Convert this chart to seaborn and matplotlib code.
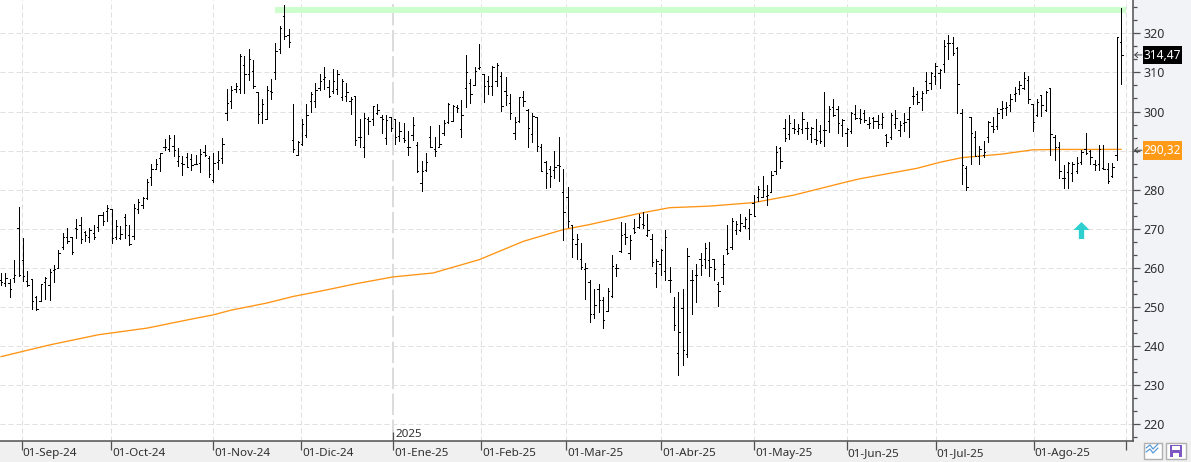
import numpy as np
import matplotlib
matplotlib.use("Agg")
import matplotlib.pyplot as plt
from matplotlib.lines import Line2D
from matplotlib.patches import Rectangle
from matplotlib.ticker import AutoMinorLocator
from matplotlib.transforms import IdentityTransform, ScaledTranslation, blended_transform_factory
import seaborn as sns

# Daily OHLC prices, one entry per session
open_prices = [
    256.9, 256.1, 256.1, 257.3, 270.1, 262.1, 256.6, 257.1, 252.5, 251.6,
    256.5, 255.6, 259.5, 260.1, 265.4, 268, 268, 270.3, 270.9, 269.3,
    268, 269, 270.5, 273.5, 274.6, 275, 268, 267.6, 272.9, 268.3,
    268.2, 275, 276, 277.9, 283.3, 285.4, 288.2, 290.8, 290.5, 291.2,
    287.4, 286.9, 288.4, 287.8, 286.5, 286.8, 289.7, 288, 282.6, 287.1,
    288, 299.7, 302.7, 305.7, 305.7, 311.9, 309.5, 310.4, 305.1, 300,
    298.2, 305.2, 310, 315.9, 324.3, 319.5, 292.6, 289, 291.7, 294,
    302.7, 302.6, 305.9, 308.3, 306.3, 305.3, 305.7, 303.6, 304, 302.7,
    304, 293.5, 290.8, 298.2, 298, 299.6, 298.6, 293.1, 298.7, 298,
    293.8, 293.2, 291, 294.1, 291.4, 281.7, 285.1, 293.6, 290.5, 291,
    294.6, 297.2, 297.7, 301.2, 295.5, 306.1, 307.4, 306.9, 311.1, 309.5,
    307.8, 306.4, 307.7, 309, 305.3, 302.1, 294.4, 297.6, 303.6, 300.3,
    294.2, 298.7, 291, 287.2, 285.2, 285, 286.3, 279.5, 278.2, 270.9,
    266, 262.4, 259.6, 256.4, 248.3, 254.7, 251.9, 249.1, 252.8, 260,
    264.2, 268.8, 263.9, 270.3, 270.5, 271.3, 268.3, 267.3, 258.7, 261.1,
    259.3, 257, 250.1, 238.3, 249.7, 238.1, 257, 258.1, 262.2, 262.3,
    261.9, 262.3, 255.9, 257.6, 264.9, 265.3, 269.6, 269.7, 270.7, 270.3,
    276.7, 278.1, 278.1, 278.4, 279.5, 284.9, 290.7, 295.7, 294.3, 295.9,
    295, 295.6, 295.9, 294.2, 292.9, 295, 295.2, 297.7, 301.1, 300.7,
    296.5, 294.4, 295, 299.4, 298.4, 299.7, 296.9, 298.3, 297.7, 296.9,
    294.1, 293.5, 296.9, 295.2, 297.1, 298, 304, 304.4, 303.5, 307.8,
    307.2, 309.1, 309.8, 312.1, 317.4, 317.4, 316.2, 299.5, 285.5, 298.5,
    293.4, 288.7, 288.8, 293.6, 296.2, 296.3, 300.6, 301, 301.6, 304.4,
    305.8, 306, 308.1, 301.9, 299.1, 304.2, 300.4, 306.1, 293.6, 290.8,
    283.1, 284.5, 284.4, 284.9, 287, 290.3, 289.9, 286.7, 286.5, 285.5,
    285.3, 283.6, 289, 317.9,
]
high_prices = [
    258.8, 258.6, 257.1, 261.9, 275.7, 267.7, 259.3, 257.1, 252.7, 256,
    257.8, 259.6, 260.7, 264.7, 269, 270.3, 268, 272.4, 272.9, 269.4,
    270.1, 270.9, 273.5, 274.4, 276, 275, 272.2, 270.8, 273.9, 270.9,
    276.3, 277.7, 278.2, 282.7, 286.5, 287.9, 289.5, 293, 294.1, 293.9,
    290.6, 288.5, 289.3, 289.1, 288.8, 290.3, 291.4, 288.5, 289.3, 289.8,
    293.1, 305.7, 306.4, 307.2, 314.8, 314.1, 316, 313.1, 305.1, 303.2,
    306.4, 308.3, 317.6, 321.9, 327.2, 321, 301.9, 292.5, 298, 301.9,
    305.1, 307.4, 309.5, 311.5, 308, 311, 310.5, 308.4, 307.2, 303.6,
    304, 298, 299.7, 298.5, 301.3, 301.8, 299.1, 299.1, 298.7, 298.2,
    297.2, 297, 294.9, 298.7, 292.3, 287.3, 289.3, 296.2, 293.4, 296.5,
    297.8, 302.3, 301.6, 301.6, 302.9, 314.4, 308.3, 311.5, 317.2, 309.5,
    309, 311.7, 312.4, 310.2, 308.7, 304.4, 298.5, 303.6, 305.2, 300.6,
    299.7, 298.7, 291.6, 287.4, 286, 289.9, 293.5, 285.3, 280.6, 271.1,
    268.8, 266.4, 261.3, 257, 254.5, 255.9, 252.6, 254.9, 263.2, 260.9,
    271.7, 271.5, 268.3, 272.4, 273.9, 274.3, 273.7, 268.6, 262.2, 264.9,
    269.8, 260.3, 252.6, 253.9, 254.5, 265.2, 259.4, 260.9, 263.7, 266.4,
    266.7, 262.3, 256.4, 263.2, 270.9, 272.8, 272.1, 273.7, 273.1, 275,
    278.6, 280.9, 283.4, 281.1, 284.9, 291.3, 291, 298, 299, 298,
    296.9, 299.9, 297.4, 296, 298, 296.5, 304.9, 301.4, 303.1, 301.4,
    298, 295.9, 299.9, 301.6, 300.7, 300.3, 298.7, 298.7, 299.1, 299.7,
    294.3, 299.5, 300.5, 297.7, 299.7, 301.2, 306.3, 305.2, 305.2, 310.1,
    310.2, 312.5, 310.8, 318.3, 319.6, 319, 316.4, 300.6, 286.1, 298.5,
    295, 291.1, 292.4, 297.6, 298.7, 300.9, 302.6, 302.4, 304.4, 306.2,
    307.7, 310, 309.1, 301.9, 303.2, 304.3, 305.3, 306.1, 293.9, 292.3,
    286.3, 287, 287, 288.3, 290.2, 294.4, 290.2, 287.5, 291.4, 291.4,
    286.8, 286.8, 319, 326.4,
]
low_prices = [
    255.6, 255.4, 252.6, 256.4, 257.9, 256.7, 255.4, 249.6, 249.3, 251.6,
    252, 251.8, 256.4, 260.1, 264.9, 266.3, 263.6, 267.7, 266.3, 266.8,
    266.6, 267.3, 269.5, 270.9, 271.9, 266.3, 267.5, 267.4, 267.7, 265.9,
    267.5, 274.1, 275.2, 277.7, 281.2, 285.4, 284.8, 290.1, 289.9, 288.6,
    286.1, 283.8, 285.8, 285, 286.5, 284.5, 288.6, 283.3, 281.9, 285.2,
    286.8, 297.9, 300.9, 304.9, 304.7, 304.7, 308, 306.1, 297, 297,
    298.2, 303.2, 308.3, 315, 318.6, 316.4, 289.7, 289, 291.4, 293.6,
    299.9, 301.2, 305.5, 305.7, 303.7, 304.7, 304.6, 303, 302.6, 299.4,
    291.4, 291, 288.3, 294.2, 296.5, 299.4, 294.5, 291.6, 295.1, 291.6,
    292.5, 292.2, 288.8, 292.8, 284.6, 279.6, 284.8, 290.8, 288.7, 290.8,
    293.9, 297, 297.5, 299.9, 293.5, 301.1, 302.1, 306.8, 310.8, 302.5,
    304.4, 304.3, 306.6, 300.2, 301.6, 298.2, 292.9, 297.4, 301.3, 291,
    292.1, 290, 284.7, 280.4, 280.6, 283.1, 282.3, 267.2, 270.4, 262.8,
    262.4, 259.6, 252, 246.1, 247.2, 248.8, 244.6, 248.9, 252.6, 257.9,
    264, 266.1, 262.2, 269, 270.3, 270.3, 268.1, 260.6, 255.1, 258.1,
    256.8, 253.8, 244.1, 232.5, 235.1, 237.2, 248.3, 251.2, 258.1, 260,
    257.9, 256.9, 250.2, 255.8, 263.6, 264.9, 268.7, 269.4, 270.1, 267.5,
    273.3, 277.1, 278.1, 276.1, 279.3, 283.9, 285.6, 292.4, 292.9, 294.4,
    294.2, 294.6, 292.9, 292.2, 291.7, 292, 291.3, 294.7, 298.8, 294.6,
    293.7, 291.2, 294.6, 298, 297, 297.3, 295.7, 295.9, 295.9, 295.9,
    291.2, 292.9, 295.7, 293.7, 295, 293.5, 301.8, 301.8, 300.5, 304.8,
    305.8, 307, 306, 310.2, 313.4, 314.5, 299.7, 281.4, 280, 286.6,
    288.5, 286.5, 288.4, 292.2, 294.8, 295.5, 298.3, 299.1, 300.2, 302.7,
    304.4, 305.8, 302.3, 295.1, 298.9, 298.9, 300.2, 288.8, 287.6, 282.9,
    280.4, 280.5, 282.3, 284.2, 286.5, 289.1, 286.5, 285.1, 285.1, 285.3,
    281.7, 283.3, 287.6, 307,
]
close_prices = [
    256.4, 257.5, 254.7, 258.1, 258.3, 257.9, 255.7, 251.6, 249.5, 255.8,
    257.5, 258.9, 259.6, 263.9, 267.8, 266.9, 264.1, 269.9, 267.5, 268.3,
    269.7, 267.8, 273.5, 272, 275.3, 267.6, 270.6, 268.6, 271.1, 266.2,
    275.3, 276.9, 277.8, 282, 285.4, 286.7, 289.3, 290.8, 293.3, 290.1,
    288.5, 286.5, 285.8, 286.2, 286.7, 289.1, 289, 283.9, 286.8, 287.5,
    291.8, 302.3, 305.5, 306.4, 314.1, 309.7, 313.4, 306.6, 299.3, 302,
    305.5, 305.1, 315.5, 321.4, 319.3, 317.7, 290.5, 292.1, 296.8, 299.1,
    304.4, 305.5, 307.7, 308.7, 304, 307.8, 309.5, 307.8, 304.9, 303.2,
    292.8, 293.6, 298.3, 297.6, 301.3, 300.3, 298, 297.8, 295.7, 293.6,
    295.1, 292.7, 290.8, 296.5, 284.8, 284.9, 287, 291, 290, 291.6,
    297, 301.9, 301.4, 301, 299.1, 310, 304.4, 310.4, 311.5, 306.6,
    306.4, 311.4, 311.9, 301.3, 304.2, 299.7, 297.4, 303.6, 302.6, 295.7,
    298.9, 291.2, 284.9, 284.3, 283.6, 285.8, 286.1, 274.2, 272.1, 267.3,
    267.3, 260.3, 259.9, 248.3, 250.6, 251.9, 246.8, 254.2, 260.5, 259.9,
    268.3, 268, 267.1, 269.1, 273, 270.9, 269.7, 261.6, 261.7, 264.7,
    268, 257, 245.4, 243.7, 238.9, 263.1, 256.9, 258.3, 260.7, 265.1,
    260.3, 259.6, 254.2, 261, 263.9, 272, 271.3, 271.5, 272.6, 273.9,
    273.4, 280.1, 280, 278.6, 283.7, 289.7, 287.3, 293.3, 297.1, 295.6,
    295.7, 298.2, 295.8, 295.9, 292.7, 292.4, 295.3, 300.7, 299.1, 297,
    297.8, 295.6, 299.7, 298.4, 298.2, 297.8, 297.1, 297.6, 296.9, 298.7,
    292.3, 299.2, 298.4, 296.5, 297.3, 301.1, 304, 302.5, 304.8, 305.5,
    309.8, 311.6, 310.5, 316.8, 317.6, 314.9, 307, 286.3, 280.6, 294.6,
    288.7, 290.5, 289.7, 297.2, 295.5, 299.5, 301, 301.2, 303.3, 304.7,
    306.7, 308.5, 303.2, 297.2, 302.5, 301.6, 304.9, 294.2, 291, 284.9,
    283.1, 286.8, 286.5, 286.8, 289.6, 289.5, 288.4, 286.4, 290.3, 285.3,
    282.1, 285.9, 319, 314.47,
]

# Long moving average, sampled along the session index
average_sessions = [0, 11, 22, 33, 43, 48, 52, 60, 66, 72.8, 80.4, 88.6, 97.6, 108, 118, 127,
                    133, 144, 151, 160, 170, 179, 191, 194, 207, 212, 217, 226, 233, 239, 248, 253]
average_values = [237.3, 240.3, 242.9, 244.6, 246.9, 248, 249.2, 251, 252.7, 254.2, 256, 257.7,
                  258.7, 262.1, 266.8, 269.8, 271.1, 273.9, 275.4, 275.8, 276.7, 278.6, 282,
                  282.8, 285.5, 287, 288.2, 289.1, 290.2, 290.3, 290.3, 290.32]

# Month boundaries on the session axis
month_sessions = [4.7, 24.9, 48, 67.8, 88.6, 108.5, 127.6, 149.1, 170.1, 191, 211.1, 233.2, 254.2]
month_labels = ["01-Sep-24", "01-Oct-24", "01-Nov-24", "01-Dic-24", "01-Ene-25", "01-Feb-25",
                "01-Mar-25", "01-Abr-25", "01-May-25", "01-Jun-25", "01-Jul-25", "01-Ago-25", ""]
year_label = "2025"
year_session = 88.6

# Price axis labels; the 290 slot is occupied by the moving-average box
price_ticks = [220, 230, 240, 250, 260, 270, 280, 290, 300, 310, 320]
price_labels = ["220", "230", "240", "250", "260", "270", "280", "", "300", "310", "320"]

# Resistance band and buy signal
band_sessions = [61.9, 254.2]
band_low, band_high = 325.2, 326.7
signal_session, signal_price = 243.9, 269.7

last_close = close_prices[-1]
last_average = average_values[-1]

sns.set_theme(style="white")
plt.rcParams["font.family"] = ["Noto Sans", "DejaVu Sans"]

W, H = 1191, 462
fig = plt.figure(figsize=(W / 100, H / 100), dpi=100, facecolor="#f2f3f6")

# Bottom date strip spans the width of the window
fig.add_artist(Rectangle((0, 0), W, H - 441, transform=IdentityTransform(),
                         facecolor="#f0f0f0", edgecolor="none", zorder=-5))

ax = fig.add_axes([0, (H - 441) / H, 1133 / W, 441 / H], facecolor="white")
ax.set_xlim(-0.2, 255.67)
ax.set_ylim(215.73, 328.52)

sessions = np.arange(len(close_prices))

# Grid
grid_style = dict(color="#e0e0e0", linewidth=0.72, linestyle=(0, (5, 3)))
ax.yaxis.tick_right()
ax.set_yticks(price_ticks)
ax.set_yticklabels(price_labels)
ax.yaxis.set_minor_locator(AutoMinorLocator(3))
ax.set_xticks(month_sessions)
ax.set_xticklabels(month_labels, ha="left")
ax.grid(True, which="major", **grid_style)
ax.set_axisbelow(True)
year_line = ax.get_xgridlines()[month_sessions.index(year_session)]
year_line.set_color("#d2d2d2")
year_line.set_linewidth(1.1)
year_line.set_linestyle((0, (14, 3)))

# Spines and tick styling
for side in ("left", "top"):
    ax.spines[side].set_visible(False)
for side in ("right", "bottom"):
    ax.spines[side].set_color("#505050")
    ax.spines[side].set_linewidth(1.1)
ax.tick_params(axis="y", which="major", right=True, length=4.8, width=0.9, color="#505050",
               labelsize=9, labelcolor="#303030", pad=2.6)
ax.tick_params(axis="y", which="minor", right=True, length=2.9, width=0.9, color="#505050")
ax.tick_params(axis="x", which="major", bottom=True, length=6.5, width=0.9, color="#505050",
               labelsize=8.4, labelcolor="#303030", pad=-6)
shift = ScaledTranslation(1 / 100, -6.5 / 100, fig.dpi_scale_trans)
for label in ax.get_xticklabels():
    label.set_transform(label.get_transform() + shift)

# Resistance band
ax.fill_between(band_sessions, band_low, band_high, color="#ccffcc", linewidth=0, zorder=1)

# Moving average
sns.lineplot(x=average_sessions, y=average_values, ax=ax, color="#ff9414", linewidth=0.95,
             errorbar=None, zorder=3)

# OHLC bars
ax.vlines(sessions, low_prices, high_prices, colors="black", linewidth=0.72,
          antialiased=False, zorder=4)
ax.hlines(open_prices, sessions - 0.3, sessions, colors="black", linewidth=0.6,
          antialiased=False, zorder=4)
ax.hlines(close_prices, sessions, sessions + 0.3, colors="black", linewidth=0.6,
          antialiased=False, zorder=4)

# Buy signal arrow
arrow_shape = [(0, 8), (7.5, 0.5), (2.5, 0.5), (2.5, -8), (-2.5, -8), (-2.5, 0.5), (-7.5, 0.5)]
ax.scatter([signal_session], [signal_price], marker=arrow_shape, s=150, color="#2fcfcf",
           linewidths=0, zorder=5)

# Year marker above the date axis
ax.vlines([year_session], 215.73, 218, colors="#505050", linewidth=0.9, zorder=6)
ax.annotate(year_label, xy=(year_session, 218.1), xytext=(2, -3), textcoords="offset pixels",
            ha="left", va="center", fontsize=8.4, color="#303030", zorder=6)

# Value boxes on the price axis
px_y = blended_transform_factory(IdentityTransform(), ax.transData)


def value_box(value, facecolor, y_center):
    text = f"{value:.2f}".replace(".", ",")
    ax.add_patch(Rectangle((1143, y_center - 2.4), 39, 4.8, transform=px_y, facecolor=facecolor,
                           edgecolor="none", clip_on=False, zorder=7))
    ax.text(1162.5, y_center - 0.1, text, transform=px_y, ha="center", va="center",
            fontsize=8.6, color="white", clip_on=False, zorder=8)
    ax.annotate("", xy=(1134, y_center), xycoords=px_y, xytext=(1142, y_center), textcoords=px_y,
                arrowprops=dict(arrowstyle="->,head_length=0.18,head_width=0.16", color="#404040",
                                linewidth=0.7, shrinkA=0, shrinkB=0), annotation_clip=False)


value_box(last_close, "black", 314.47)
value_box(last_average, "#ff9a17", 290.1)


# Toolbar buttons in the lower right corner
def to_display(px, py):
    return px, H - py


fig.add_artist(Rectangle(to_display(1143.5, 459), 18, 16, transform=IdentityTransform(),
                         facecolor="white", edgecolor="#b0b0b0", linewidth=1))
for offset in (0, 4):
    xs = [1146, 1150, 1153, 1158]
    ys = [452 + offset - 4, 447 + offset - 2, 451 + offset - 2, 446 + offset - 2]
    fig.add_artist(Line2D(xs, [H - y for y in ys], transform=IdentityTransform(),
                          color="#5b9bd5", linewidth=0.9))
fig.add_artist(Rectangle(to_display(1166, 459), 20, 16, transform=IdentityTransform(),
                         facecolor="white", edgecolor="#b0b0b0", linewidth=1))
fig.add_artist(Rectangle(to_display(1170, 457), 12, 12, transform=IdentityTransform(),
                         facecolor="#7e57c2", edgecolor="none"))
fig.add_artist(Rectangle(to_display(1172, 450), 8, 4, transform=IdentityTransform(),
                         facecolor="white", edgecolor="none"))
fig.add_artist(Rectangle(to_display(1173, 457), 6, 4, transform=IdentityTransform(),
                         facecolor="white", edgecolor="none"))

fig.savefig("out.png", dpi=100)
